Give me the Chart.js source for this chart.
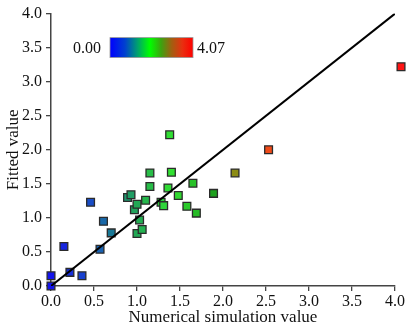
<!DOCTYPE html>
<html><head><meta charset="utf-8">
<script src="https://cdn.jsdelivr.net/npm/chart.js@4/dist/chart.umd.min.js"></script>
<style>html,body{margin:0;padding:0;background:#fff}#wrap{width:408px;height:328px}</style>
</head><body><div id="wrap"><canvas id="c"></canvas></div>
<script>
// Data
const simValues    = [0.00,0.00,0.22,0.36,0.15,0.46,0.57,0.61,0.70,0.89,0.93,0.97,1.00,1.03,1.00,1.06,1.10,1.15,1.15,1.38,1.40,1.36,1.28,1.31,1.48,1.58,1.65,1.69,1.89,2.14,2.53,4.07];
const fittedValues = [0.00,0.15,0.20,0.15,0.58,1.23,0.54,0.95,0.78,1.30,1.34,1.12,1.20,0.97,0.77,0.83,1.26,1.66,1.46,2.22,1.67,1.44,1.23,1.18,1.33,1.17,1.51,1.07,1.36,1.66,2.00,3.22];
const refLine = [0, 4];
const axisTicks = [0,0.5,1,1.5,2,2.5,3,3.5,4];
const colorbarMin = 0.00, colorbarMax = 4.07;

// colour map (value -> colour) matching the reference marker colours
const markerStops = [[0,[20,20,235]],[0.45,[25,75,200]],[0.7,[25,120,150]],[1.0,[34,168,85]],[1.4,[50,225,50]],[1.9,[30,160,30]],[2.14,[140,140,20]],[2.53,[240,75,25]],[4.07,[255,20,20]]];
function colorFor(v){
  for(let i=1;i<markerStops.length;i++){
    const [a,ca]=markerStops[i-1],[b,cb]=markerStops[i];
    if(v<=b){const t=(v-a)/(b-a);const c=ca.map((q,k)=>Math.round(q+(cb[k]-q)*t));return `rgb(${c[0]},${c[1]},${c[2]})`;}
  }
  const c=markerStops[markerStops.length-1][1];return `rgb(${c[0]},${c[1]},${c[2]})`;
}

const points = simValues.map((x,i)=>({x, y: fittedValues[i]}));
const colors = simValues.map(colorFor);
const FONT = "'Liberation Serif','Times New Roman',serif";

const colorbar = {
  id:'colorbar',
  afterDraw(chart){
    const ctx=chart.ctx, a=chart.chartArea;
    const x0=a.left+59, y0=a.top+24, w=83, h=20;
    const g=ctx.createLinearGradient(x0,0,x0+w,0);
    g.addColorStop(0,'#0000ff');
    g.addColorStop(0.18,'#0040d0');
    g.addColorStop(0.33,'#00a070');
    g.addColorStop(0.48,'#00ff00');
    g.addColorStop(0.62,'#40a010');
    g.addColorStop(0.74,'#a06010');
    g.addColorStop(0.87,'#e83010');
    g.addColorStop(1,'#ff0000');
    ctx.save();
    ctx.fillStyle=g; ctx.fillRect(x0,y0,w,h);
    ctx.strokeStyle='#999'; ctx.lineWidth=0.8; ctx.strokeRect(x0,y0,w,h);
    ctx.fillStyle='#111'; ctx.font="16px "+FONT; ctx.textBaseline='middle';
    ctx.textAlign='right'; ctx.fillText(colorbarMin.toFixed(2), x0-9, y0+h/2+1);
    ctx.textAlign='left'; ctx.fillText(colorbarMax.toFixed(2), x0+w+4, y0+h/2+1);
    ctx.restore();
  }
};

new Chart(document.getElementById('c'),{
  type:'scatter',
  data:{datasets:[
    {type:'line', data: refLine.map(v=>({x:v,y:v})), borderColor:'#000', borderWidth:2, pointRadius:0, fill:false},
    {data: points, pointStyle:'rect', pointRadius:5.5, pointHoverRadius:5.5, backgroundColor: colors, borderColor:'#2b2b2b', borderWidth:1.3, clip:false}
  ]},
  options:{
    responsive:true, maintainAspectRatio:false, animation:false,
    layout:{padding:{left:0,right:13,top:9,bottom:0}},
    plugins:{legend:{display:false}, tooltip:{enabled:false}},
    scales:{
      x:{type:'linear', min:0, max:4, afterBuildTicks(s){s.ticks=axisTicks.map(v=>({value:v}));},
        afterFit(s){s.height=42;},
        grid:{drawOnChartArea:false, drawTicks:true, tickLength:5, color:'#444', lineWidth:1.3},
        border:{display:true, color:'#444', width:1.5},
        ticks:{padding:1, color:'#111', font:{family:FONT,size:16}, callback:v=>v.toFixed(1), maxRotation:0, autoSkip:false},
        title:{display:true, text:'Numerical simulation value', color:'#111', font:{family:FONT,size:17}, padding:{top:0,bottom:0}}
      },
      y:{type:'linear', min:0, max:4, afterBuildTicks(s){s.ticks=axisTicks.map(v=>({value:v}));},
        afterFit(s){s.width=51;},
        grid:{drawOnChartArea:false, drawTicks:true, tickLength:5, color:'#444', lineWidth:1.3},
        border:{display:true, color:'#444', width:1.5},
        ticks:{padding:4, color:'#111', font:{family:FONT,size:16}, callback:v=>v.toFixed(1), autoSkip:false},
        title:{display:true, text:'Fitted value', color:'#111', font:{family:FONT,size:17}, padding:{top:3,bottom:0}}
      }
    }
  },
  plugins:[colorbar]
});
</script></body></html>
